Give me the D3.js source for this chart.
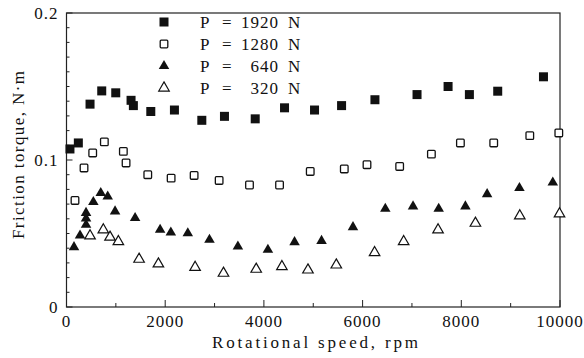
<!DOCTYPE html>
<html>
<head>
<meta charset="utf-8">
<script src="https://cdn.jsdelivr.net/npm/d3@7"></script>
<style>
  body { margin: 0; background: #fff; }
  text { font-family: "Liberation Serif", "DejaVu Serif", serif; fill: #111; }
</style>
</head>
<body>
<svg id="chart" width="584" height="358"></svg>
<script>
// Data (speed in rpm, torque in N·m)
const speed1920 = [70, 240, 477, 714, 998, 1308, 1355, 1708, 2187, 2742, 3201, 3824, 4418, 5026, 5574, 6250, 7103, 7732, 8164, 8738, 9665];
const torque1920 = [0.1075, 0.1116, 0.138, 0.147, 0.1457, 0.1406, 0.137, 0.133, 0.134, 0.127, 0.1297, 0.128, 0.1355, 0.134, 0.137, 0.141, 0.1445, 0.150, 0.1445, 0.1468, 0.1566];

const speed1280 = [172, 355, 531, 767, 1152, 1207, 1647, 2120, 2586, 3093, 3708, 4317, 4939, 5629, 6089, 6751, 7394, 7982, 8657, 9388, 9976];
const torque1280 = [0.0725, 0.0946, 0.1048, 0.1123, 0.1059, 0.098, 0.090, 0.0877, 0.0895, 0.0861, 0.083, 0.083, 0.0922, 0.0939, 0.0968, 0.0956, 0.104, 0.1116, 0.1116, 0.1166, 0.1184];

const speed640 = [152, 274, 396, 396, 396, 544, 694, 835, 984, 1390, 1897, 2114, 2458, 2897, 3473, 4081, 4621, 5168, 5805, 6460, 7022, 7542, 8083, 8523, 9178, 9854];
const torque640 = [0.0407, 0.0486, 0.0559, 0.0602, 0.0640, 0.0714, 0.0775, 0.0752, 0.065, 0.0605, 0.0525, 0.0507, 0.0502, 0.0457, 0.0411, 0.0389, 0.0441, 0.045, 0.0543, 0.0668, 0.0684, 0.0668, 0.0684, 0.0768, 0.0809, 0.0847];

const speed320 = [477, 746, 882, 1051, 1471, 1862, 2606, 3181, 3844, 4365, 4893, 5467, 6243, 6832, 7529, 8286, 9185, 9990];
const torque320 = [0.0484, 0.0525, 0.0475, 0.0445, 0.0325, 0.0293, 0.027, 0.023, 0.0257, 0.0275, 0.0252, 0.0286, 0.037, 0.0445, 0.0525, 0.057, 0.062, 0.0634];

const loads = ["1920", "1280", "640", "320"];
const markers = ["squareFilled", "squareOpen", "triFilled", "triOpen"];
const xTicks = [0, 2000, 4000, 6000, 8000, 10000];
const yTicks = [0, 0.1, 0.2];

const series = [
  {load: loads[0], marker: markers[0], x: speed1920, y: torque1920},
  {load: loads[1], marker: markers[1], x: speed1280, y: torque1280},
  {load: loads[2], marker: markers[2], x: speed640, y: torque640},
  {load: loads[3], marker: markers[3], x: speed320, y: torque320}
];

const svg = d3.select("#chart");
const margin = {top: 13, right: 24, bottom: 51, left: 66.5};
const width = +svg.attr("width");
const height = +svg.attr("height");
const innerW = width - margin.left - margin.right;
const innerH = height - margin.top - margin.bottom;

const g = svg.append("g").attr("transform", `translate(${margin.left},${margin.top})`);

const x = d3.scaleLinear().domain([0, 10000]).range([0, innerW]);
const y = d3.scaleLinear().domain([0, 0.2]).range([innerH, 0]);

// frame
g.append("rect")
  .attr("width", innerW).attr("height", innerH)
  .attr("fill", "none").attr("stroke", "#222").attr("stroke-width", 1.2);

// inward ticks
g.selectAll(".xt")
  .data(d3.range(0, 10001, 1000))
  .join("line")
    .attr("x1", d => x(d)).attr("x2", d => x(d))
    .attr("y1", innerH).attr("y2", d => innerH - (d % 2000 === 0 ? 7 : 4))
    .attr("stroke", "#222").attr("stroke-width", 1);

g.selectAll(".yt")
  .data(d3.range(0, 21).map(i => i / 100))
  .join("line")
    .attr("x1", 0).attr("x2", (d, i) => i % 10 === 0 ? 6 : 3)
    .attr("y1", d => y(d)).attr("y2", d => y(d))
    .attr("stroke", "#222").attr("stroke-width", 1);

// tick labels
g.selectAll(".xl")
  .data(xTicks)
  .join("text")
    .attr("x", d => x(d)).attr("y", innerH + 20)
    .attr("text-anchor", "middle")
    .attr("font-size", 17).attr("letter-spacing", 1)
    .text(d => d);

g.selectAll(".yl")
  .data(yTicks)
  .join("text")
    .attr("x", -8).attr("y", d => y(d) + 6)
    .attr("text-anchor", "end")
    .attr("font-size", 17).attr("letter-spacing", 1)
    .text(d => d === 0 ? "0" : d.toFixed(1));

// axis labels
svg.append("text")
  .attr("x", 315).attr("y", 348)
  .attr("text-anchor", "middle")
  .attr("font-size", 17)
  .attr("textLength", 206).attr("lengthAdjust", "spacing")
  .text("Rotational speed, rpm");

svg.append("text")
  .attr("transform", "translate(24,155) rotate(-90)")
  .attr("text-anchor", "middle")
  .attr("font-size", 17)
  .attr("textLength", 168).attr("lengthAdjust", "spacing")
  .text("Friction torque, N·m");

// marker drawing
const tri = d3.symbol().type(d3.symbolTriangle).size(48);
function drawMarker(sel, kind) {
  if (kind === "squareFilled") {
    sel.append("rect").attr("x", -4.5).attr("y", -4.5).attr("width", 9).attr("height", 9)
      .attr("fill", "#111");
  } else if (kind === "squareOpen") {
    sel.append("rect").attr("x", -3.8).attr("y", -3.8).attr("width", 7.6).attr("height", 7.6)
      .attr("rx", 1).attr("fill", "#fff").attr("stroke", "#111").attr("stroke-width", 1.3);
  } else if (kind === "triFilled") {
    sel.append("path").attr("d", tri).attr("fill", "#111");
  } else {
    sel.append("path").attr("d", tri).attr("fill", "#fff").attr("stroke", "#111").attr("stroke-width", 1.2);
  }
}

series.forEach(s => {
  const pts = g.append("g")
    .selectAll("g")
    .data(s.x.map((v, i) => ({sp: v, tq: s.y[i]})))
    .join("g")
      .attr("transform", d => `translate(${x(d.sp)},${y(d.tq)})`);
  pts.each(function() { drawMarker(d3.select(this), s.marker); });
});

// legend
const legend = svg.append("g");
series.forEach((s, i) => {
  const ly = 22 + i * 22;
  const item = legend.append("g").attr("transform", `translate(0,${ly})`);
  drawMarker(item.append("g").attr("transform", "translate(164,0)"), s.marker);
  item.append("text").attr("x", 200).attr("y", 5.5).attr("font-size", 17).text("P");
  item.append("text").attr("x", 222).attr("y", 5.5).attr("font-size", 17).text("=");
  item.append("text").attr("x", 279).attr("y", 5.5).attr("font-size", 17)
    .attr("text-anchor", "end").attr("letter-spacing", 1).text(s.load);
  item.append("text").attr("x", 288).attr("y", 5.5).attr("font-size", 17).text("N");
});
</script>
</body>
</html>
